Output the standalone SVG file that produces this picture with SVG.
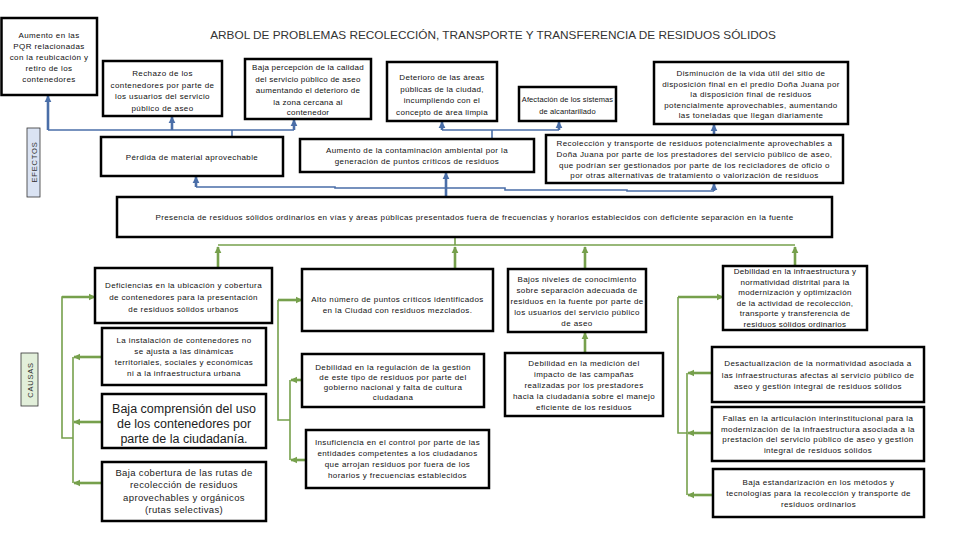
<svg xmlns="http://www.w3.org/2000/svg" width="960" height="540" viewBox="0 0 960 540">
<style>
.box{fill:#fff;stroke:#000;stroke-width:2.5}
.t{font-family:"Liberation Sans",Arial,sans-serif;font-size:8px;letter-spacing:0.4px;fill:#111;text-anchor:middle}
.tn{font-family:"Liberation Sans",Arial,sans-serif;font-size:7.5px;letter-spacing:0.1px;fill:#111;text-anchor:middle}
.big{font-family:"Liberation Sans",Arial,sans-serif;font-size:12.5px;fill:#222;text-anchor:middle}
.mid{font-family:"Liberation Sans",Arial,sans-serif;font-size:9.5px;letter-spacing:0.35px;fill:#222;text-anchor:middle}
.title{font-family:"Liberation Sans",Arial,sans-serif;font-size:11.8px;fill:#333;text-anchor:middle}
.bl{fill:none;stroke:#4a6ea8;stroke-width:1.6}
.ba{fill:none;stroke:#4a6ea8;stroke-width:2.6;marker-end:url(#ab)}
.gl{fill:none;stroke:#76a04c;stroke-width:1.6}
.ga{fill:none;stroke:#76a04c;stroke-width:2.6;marker-end:url(#ag)}
.side{font-family:"Liberation Sans",Arial,sans-serif;font-size:7.5px;letter-spacing:0.8px;fill:#333;text-anchor:middle}
</style>
<defs>
<marker id="ab" viewBox="0 0 10 10" refX="9" refY="5" markerWidth="7" markerHeight="8" markerUnits="userSpaceOnUse" orient="auto"><path d="M0,0 L10,5 L0,10 z" fill="#4a6ea8"/></marker>
<marker id="ag" viewBox="0 0 10 10" refX="9" refY="5" markerWidth="7" markerHeight="8" markerUnits="userSpaceOnUse" orient="auto"><path d="M0,0 L10,5 L0,10 z" fill="#76a04c"/></marker>
</defs>
<rect width="960" height="540" fill="#fff"/>
<text class="title" x="493" y="39">ARBOL DE PROBLEMAS RECOLECCIÓN, TRANSPORTE Y TRANSFERENCIA DE RESIDUOS SÓLIDOS</text>

<g id="label-efectos"><rect x="27" y="128" width="13" height="69" fill="#dae3f3" stroke="#333" stroke-width="0.8"/><text class="side" transform="translate(36.5,162) rotate(-90)">EFECTOS</text></g>
<g id="label-causas"><rect x="21" y="353" width="17" height="53" fill="#e2efda" stroke="#333" stroke-width="0.8"/><text class="side" transform="translate(32.5,380) rotate(-90)">CAUSAS</text></g>

<g id="connectors">
<path class="bl" d="M48,130 H294"/>
<path class="bl" d="M232,137 V130"/>
<path class="ba" d="M48,130 V96"/>
<path class="ba" d="M172,130 V117"/>
<path class="ba" d="M294,130 V120"/>
<path class="bl" d="M442,130 H559"/>
<path class="bl" d="M492,139 V130"/>
<path class="ba" d="M442,130 V122"/>
<path class="ba" d="M559,130 V122"/>
<path class="ba" d="M714,135 V125"/>
<path class="bl" d="M196,187 H335 V188 H505 V190 H627 V191 H714"/>
<path class="ba" d="M446,197 V173"/>
<path class="ba" d="M196,187 V177"/>
<path class="ba" d="M714,191 V184"/>
<path class="gl" d="M455,237 V245"/>
<path class="gl" d="M218,245 H795"/>
<path class="ga" d="M218,268 V247"/>
<path class="ga" d="M455,269 V247"/>
<path class="ga" d="M585,269 V247"/>
<path class="ga" d="M795,266 V247"/>
<path class="gl" d="M95,297 H62 V438 H73"/>
<path class="ga" d="M62,297 H95"/>
<path class="gl" d="M73,357 V483"/>
<path class="ga" d="M102,357 H74"/>
<path class="ga" d="M102,422 H74"/>
<path class="ga" d="M102,483 H74"/>
<path class="gl" d="M278,300 V420 H290"/>
<path class="ga" d="M278,300 H302"/>
<path class="gl" d="M290,380 V460"/>
<path class="ga" d="M302,380 H291"/>
<path class="ga" d="M306,460 H291"/>
<path class="ga" d="M585,353 V333"/>
<path class="gl" d="M678,297 V433 H687"/>
<path class="ga" d="M678,297 H723"/>
<path class="gl" d="M687,373 V495"/>
<path class="ga" d="M712,373 H688"/>
<path class="ga" d="M712,433 H688"/>
<path class="ga" d="M713,495 H688"/>
</g>

<g id="e-pqr"><rect class="box" x="1.5" y="18" width="95.5" height="77"/>
<text class="t"><tspan x="49" y="38">Aumento en las</tspan><tspan x="49" y="49">PQR relacionadas</tspan><tspan x="49" y="60">con la reubicación y</tspan><tspan x="49" y="71">retiro de los</tspan><tspan x="49" y="82">contenedores</tspan></text></g>

<g id="e-rechazo"><rect class="box" x="103" y="61" width="119" height="55"/>
<text class="t"><tspan x="162.5" y="76">Rechazo de los</tspan><tspan x="162.5" y="87.5">contenedores por parte de</tspan><tspan x="162.5" y="99">los usuarios del servicio</tspan><tspan x="162.5" y="110.5">público de aseo</tspan></text></g>

<g id="e-percepcion"><rect class="box" x="245" y="59" width="126" height="60"/>
<text class="t" style="letter-spacing:0.25px"><tspan x="308" y="70">Baja percepción de la calidad</tspan><tspan x="308" y="81.5">del servicio público de aseo</tspan><tspan x="308" y="93">aumentando el deterioro de</tspan><tspan x="308" y="104.5">la zona cercana al</tspan><tspan x="308" y="115">contenedor</tspan></text></g>

<g id="e-deterioro"><rect class="box" x="387" y="62" width="110" height="59"/>
<text class="t" style="letter-spacing:0.3px"><tspan x="442" y="80">Deterioro de las áreas</tspan><tspan x="442" y="91.5">públicas de la ciudad,</tspan><tspan x="442" y="103">incumpliendo con el</tspan><tspan x="442" y="114.5">concepto de área limpia</tspan></text></g>

<g id="e-afectacion"><rect class="box" x="519" y="87" width="97" height="34"/>
<text class="tn"><tspan x="567.5" y="102">Afectación de los sistemas</tspan><tspan x="567.5" y="113.5">de alcantarillado</tspan></text></g>

<g id="e-disminucion"><rect class="box" x="654" y="62" width="194" height="62"/>
<text class="t"><tspan x="751" y="76">Disminución de la vida útil del sitio de</tspan><tspan x="751" y="86.5">disposición final en el predio Doña Juana por</tspan><tspan x="751" y="97">la disposición final de residuos</tspan><tspan x="751" y="107.5">potencialmente aprovechables, aumentando</tspan><tspan x="751" y="118">las toneladas que llegan diariamente</tspan></text></g>

<g id="e-perdida"><rect class="box" x="101" y="137" width="182" height="39"/>
<text class="t" x="192" y="160">Pérdida de material aprovechable</text></g>

<g id="e-contaminacion"><rect class="box" x="300" y="139" width="234" height="33"/>
<text class="t"><tspan x="417" y="153">Aumento de la contaminación ambiental por la</tspan><tspan x="417" y="164">generación de puntos críticos de residuos</tspan></text></g>

<g id="e-recoleccion"><rect class="box" x="546" y="135" width="297" height="48"/>
<text class="t"><tspan x="694.5" y="146">Recolección y transporte de residuos potencialmente aprovechables a</tspan><tspan x="694.5" y="157">Doña Juana por parte de los prestadores del servicio público de aseo,</tspan><tspan x="694.5" y="167.5">que podrían ser gestionados por parte de los recicladores de oficio o</tspan><tspan x="694.5" y="178">por otras alternativas de tratamiento o valorización de residuos</tspan></text></g>

<g id="problema-central"><rect class="box" x="117" y="197" width="715" height="40"/>
<text class="t" x="474.5" y="220">Presencia de residuos sólidos ordinarios en vías y áreas públicas presentados fuera de frecuencias y horarios establecidos con deficiente separación en la fuente</text></g>

<g id="c-deficiencias"><rect class="box" x="95" y="268" width="177" height="55"/>
<text class="t"><tspan x="183.5" y="288">Deficiencias en la ubicación y cobertura</tspan><tspan x="183.5" y="300">de contenedores para la presentación</tspan><tspan x="183.5" y="311.5">de residuos sólidos urbanos</tspan></text></g>

<g id="c-instalacion"><rect class="box" x="102" y="328" width="164" height="57"/>
<text class="t"><tspan x="184" y="343">La instalación de contenedores no</tspan><tspan x="184" y="354">se ajusta a las dinámicas</tspan><tspan x="184" y="365">territoriales, sociales y económicas</tspan><tspan x="184" y="376">ni a la infraestructura urbana</tspan></text></g>

<g id="c-comprension"><rect class="box" x="102" y="394" width="164" height="54"/>
<text class="big"><tspan x="184" y="412.5">Baja comprensión del uso</tspan><tspan x="184" y="427.5">de los contenedores por</tspan><tspan x="184" y="442.5">parte de la ciudadanía.</tspan></text></g>

<g id="c-cobertura"><rect class="box" x="102" y="462" width="164" height="59"/>
<text class="mid"><tspan x="184" y="475.5">Baja cobertura de las rutas de</tspan><tspan x="184" y="488">recolección de residuos</tspan><tspan x="184" y="500.5">aprovechables y orgánicos</tspan><tspan x="184" y="513">(rutas selectivas)</tspan></text></g>

<g id="c-alto"><rect class="box" x="302" y="269" width="191" height="62"/>
<text class="t"><tspan x="397.5" y="302">Alto número de puntos críticos identificados</tspan><tspan x="397.5" y="313">en la Ciudad con residuos mezclados.</tspan></text></g>

<g id="c-regulacion"><rect class="box" x="302" y="354" width="182" height="53"/>
<text class="t"><tspan x="393" y="370">Debilidad en la regulación de la gestión</tspan><tspan x="393" y="380">de este tipo de residuos por parte del</tspan><tspan x="393" y="390">gobierno nacional y falta de cultura</tspan><tspan x="393" y="400">ciudadana</tspan></text></g>

<g id="c-insuficiencia"><rect class="box" x="306" y="430" width="183" height="58"/>
<text class="t"><tspan x="397.5" y="445">Insuficiencia en el control por parte de las</tspan><tspan x="397.5" y="456">entidades competentes a los ciudadanos</tspan><tspan x="397.5" y="467">que arrojan residuos por fuera de los</tspan><tspan x="397.5" y="478">horarios y frecuencias establecidos</tspan></text></g>

<g id="c-bajos"><rect class="box" x="508" y="269" width="138" height="63"/>
<text class="t"><tspan x="577" y="282">Bajos niveles de conocimiento</tspan><tspan x="577" y="293">sobre separación adecuada de</tspan><tspan x="577" y="304">residuos en la fuente por parte de</tspan><tspan x="577" y="315">los usuarios del servicio público</tspan><tspan x="577" y="326">de aseo</tspan></text></g>

<g id="c-medicion"><rect class="box" x="505" y="353" width="158" height="63"/>
<text class="t"><tspan x="584" y="366">Debilidad en la medición del</tspan><tspan x="584" y="377">impacto de las campañas</tspan><tspan x="584" y="388">realizadas por los prestadores</tspan><tspan x="584" y="399">hacia la ciudadanía sobre el manejo</tspan><tspan x="584" y="410">eficiente de los residuos</tspan></text></g>

<g id="c-infraestructura"><rect class="box" x="723" y="266" width="144" height="64"/>
<text class="t" style="letter-spacing:0.3px"><tspan x="795" y="274">Debilidad en la infraestructura y</tspan><tspan x="795" y="284.5">normatividad distrital para la</tspan><tspan x="795" y="295">modernización y optimización</tspan><tspan x="795" y="305.5">de la actividad de recolección,</tspan><tspan x="795" y="316">transporte y transferencia de</tspan><tspan x="795" y="326.5">residuos sólidos ordinarios</tspan></text></g>

<g id="c-desactualizacion"><rect class="box" x="712" y="347" width="212" height="55"/>
<text class="t"><tspan x="818" y="366">Desactualización de la normatividad asociada a</tspan><tspan x="818" y="377.5">las infraestructuras afectas al servicio público de</tspan><tspan x="818" y="389">aseo y gestión integral de residuos sólidos</tspan></text></g>

<g id="c-fallas"><rect class="box" x="712" y="407" width="212" height="54"/>
<text class="t"><tspan x="818" y="421">Fallas en la articulación interinstitucional para la</tspan><tspan x="818" y="431.5">modernización de la infraestructura asociada a la</tspan><tspan x="818" y="442">prestación del servicio público de aseo y gestión</tspan><tspan x="818" y="452.5">integral de residuos sólidos</tspan></text></g>

<g id="c-estandarizacion"><rect class="box" x="713" y="469" width="211" height="48"/>
<text class="t"><tspan x="818.5" y="485">Baja estandarización en los métodos y</tspan><tspan x="818.5" y="496">tecnologías para la recolección y transporte de</tspan><tspan x="818.5" y="507">residuos ordinarios</tspan></text></g>
</svg>
